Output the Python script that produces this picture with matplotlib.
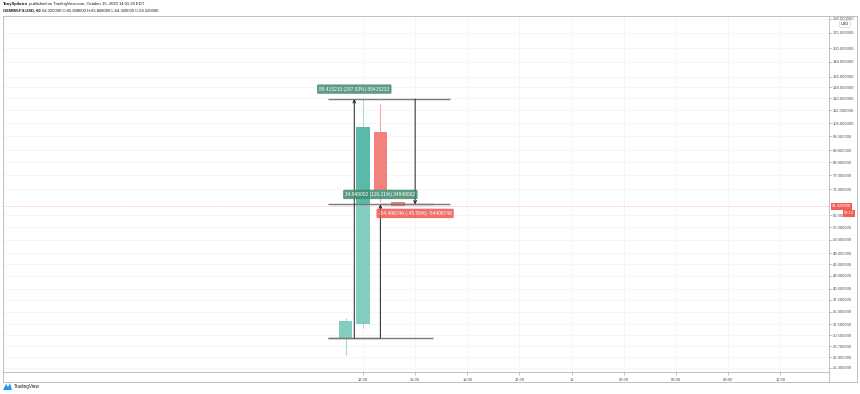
import matplotlib.pyplot as plt
from matplotlib.ticker import NullLocator
from matplotlib.lines import Line2D
from matplotlib.patches import Polygon

plt.rcParams['font.family'] = ['Liberation Sans', 'DejaVu Sans']

# hourly candles, x = hours from 12:00 Oct 15
hours = [-1, 0, 1, 2]
opens = [30.1, 32.6, 99.0, 65.808]
highs = [33.8, 119.4, 116.2, 65.808]
lows = [27.2, 31.9, 66.0, 64.32]
closes = [33.2, 101.6, 70.7, 64.32]

last_price = 64.32
countdown = "58:13"

price_ticks = [190, 175, 160, 148, 136, 128, 120, 112, 104, 96.5, 89, 83, 77, 71,
               61, 57, 53, 49, 46, 43, 40, 37.5, 35, 32.5, 30.5, 28.7, 26.9, 25.3]
time_ticks = [0, 3, 6, 9, 12, 15, 18, 21, 24]
time_labels = ["12:00", "15:00", "18:00", "21:00", "16", "03:00", "06:00", "09:00", "12:00"]

# price range drawings: x start, x end, price from, price to, label
ranges = [
    (-2, 1, 30.012, 119.427, "89.415233 (297.93%) 89415233"),
    (-2, 4, 30.073, 65.021, "34.948002 (116.21%) 34948002"),
    (1, 5, 119.427, 65.021, "-54.406746 (-45.56%) -54406746"),
]

header1 = "TonySpilotro"
header1b = " published on TradingView.com, October 15, 2020 14:01:38 EDT"
header2 = "GEMINI:FILUSD, 60"
header2b = " 64.320000 O:65.808000 H:65.808000 L:64.320000 C:64.320000"

W, H = 860, 394
fig = plt.figure(figsize=(W / 100, H / 100), dpi=100)


def fx(px):
    return px / W


def fy(py):
    return 1 - py / H


frame_col = '#b2b5be'
text_col = '#131722'

# outer frame
bg = fig.add_axes([fx(3), fy(382), fx(857) - fx(3), fy(16) - fy(382)], zorder=-1)
bg.set_xticks([])
bg.set_yticks([])
for s in bg.spines.values():
    s.set_color(frame_col)
    s.set_linewidth(0.6)
fig.add_artist(Line2D([fx(829), fx(829)], [fy(372), fy(382)], color=frame_col, lw=0.6))

ax = fig.add_axes([fx(3), fy(372), fx(829) - fx(3), fy(16) - fy(372)])
ax.set_yscale('log')
ax.set_xlim(-20.7, 26.8)
ax.set_ylim(24.7, 193)
ax.yaxis.tick_right()
ax.set_yticks(price_ticks, labels=[f"{p:.6f}" for p in price_ticks])
ax.yaxis.set_minor_locator(NullLocator())
ax.set_xticks(time_ticks, labels=time_labels)
ax.tick_params(axis='y', length=2, width=0.4, color='#9598a1', pad=1,
               labelsize=3, labelcolor='#50535e')
ax.tick_params(axis='x', length=2, width=0.4, color='#9598a1', pad=2.5,
               labelsize=3, labelcolor='#50535e')
ax.grid(color='#f0f3f8', lw=0.5)
ax.set_axisbelow(True)
for s in ax.spines.values():
    s.set_color(frame_col)
    s.set_linewidth(0.6)

# candles
mid_level = ranges[1][3]
for h, o, hi, lo, c in zip(hours, opens, highs, lows, closes):
    up = c >= o
    ax.vlines(h, lo, hi, color='#a6dcd3' if up else '#f7aaa6', lw=0.8, zorder=2)
    ax.bar(h, abs(c - o), bottom=min(o, c), width=0.78,
           color='#84cdc1' if up else '#f4817b', zorder=3)
    if up and c > mid_level:
        b = max(o, mid_level)
        ax.bar(h, c - b, bottom=b, width=0.78, color='#5bb9aa', zorder=3)

# last price line
ax.axhline(last_price, color='#f4a3a3', lw=0.5, ls=(0, (1, 1)), zorder=1)

# price range tools
for x0, x1, p0, p1, text in ranges:
    xm = (x0 + x1) / 2
    ax.hlines([p0, p1], x0, x1, color='#7a7a7a', lw=1.0, zorder=4)
    ax.annotate('', xy=(xm, p1), xytext=(xm, p0), zorder=5,
                arrowprops=dict(arrowstyle='->', color='#1e1e1e', lw=0.7,
                                shrinkA=0, shrinkB=0, mutation_scale=5))
    up = p1 > p0
    fc = '#3f8a6f' if up else '#f0554f'
    ax.annotate(text, xy=(xm, p1), xytext=(0, 10 if up else -9),
                textcoords='offset pixels', ha='center', va='center',
                fontsize=3.5, color='white', zorder=6,
                bbox=dict(boxstyle='round,pad=0.45,rounding_size=0.25',
                          fc=fc, ec='none', alpha=0.85))

# price axis labels
ax.annotate(f"{last_price:.6f}", xy=(1, last_price), xycoords=('axes fraction', 'data'),
            xytext=(3, 0), textcoords='offset pixels', ha='left', va='center',
            fontsize=3, color='white', annotation_clip=False,
            bbox=dict(boxstyle='square,pad=0.3', fc='#f0605a', ec='none'))
ax.annotate(countdown, xy=(1, last_price), xycoords=('axes fraction', 'data'),
            xytext=(25, -7), textcoords='offset pixels', ha='right', va='center',
            fontsize=3, color='white', annotation_clip=False,
            bbox=dict(boxstyle='square,pad=0.3', fc='#f0605a', ec='none'))
fig.text(fx(845), fy(24), "USD", fontsize=2.8, color=text_col, ha='center', va='center',
         bbox=dict(boxstyle='round,pad=0.35,rounding_size=0.3', fc='white', ec='#c8cad0', lw=0.4))

# header
r = fig.canvas.get_renderer()
t = fig.text(fx(3), fy(3.5), header1, fontsize=3, weight='bold', color=text_col, va='center')
bb = t.get_window_extent(r)
fig.text(bb.x1 / W, fy(3.5), header1b, fontsize=3, color=text_col, va='center')
t = fig.text(fx(3), fy(10.5), header2, fontsize=3, weight='bold', color=text_col, va='center')
bb = t.get_window_extent(r)
fig.text(bb.x1 / W, fy(10.5), header2b, fontsize=3, color=text_col, va='center')

# TradingView logo
fig.add_artist(Polygon([[fx(3), fy(390)], [fx(6), fy(384)], [fx(8), fy(387)],
                        [fx(10), fy(383)], [fx(12), fy(390)]],
                       closed=True, fc='#2196f3', ec='none'))
fig.text(fx(13.5), fy(386.5), "TradingView", fontsize=3.3, color=text_col, va='center')

fig.savefig('out.png', dpi=100)
